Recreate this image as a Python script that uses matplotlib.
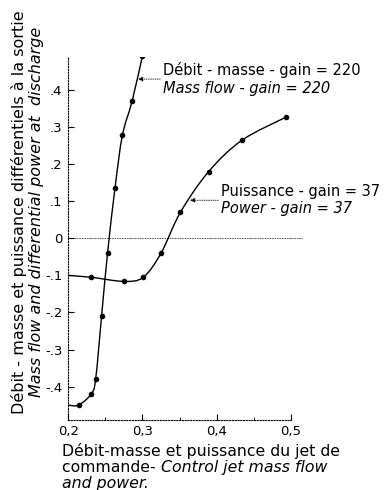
import matplotlib
matplotlib.use("Agg")
import matplotlib.pyplot as plt
from matplotlib.path import Path
from matplotlib.patches import PathPatch
from matplotlib.ticker import FixedLocator

# débit-masse (mass flow)
mass_x = [0.200, 0.214, 0.231, 0.237, 0.245, 0.253, 0.263, 0.273, 0.286, 0.300]
mass_y = [-0.450, -0.450, -0.420, -0.380, -0.210, -0.040, 0.135, 0.278, 0.370, 0.492]

# puissance (power)
pow_x = [0.200, 0.231, 0.275, 0.301, 0.325, 0.351, 0.389, 0.434, 0.493]
pow_y = [-0.100, -0.105, -0.116, -0.105, -0.040, 0.070, 0.180, 0.265, 0.327]

yticks = [-0.4, -0.3, -0.2, -0.1, 0, 0.1, 0.2, 0.3, 0.4]
ylabels = ["-.4", "-.3", "-.2", "-.1", "0", ".1", ".2", ".3", ".4"]
xticks = [0.2, 0.3, 0.4, 0.5]
xlabels = ["0,2", "0,3", "0,4", "0,5"]


def smooth_path(xs, ys):
    # courbe de Bezier passant par les points (Catmull-Rom)
    pts = list(zip(xs, ys))
    verts = [pts[0]]
    codes = [Path.MOVETO]
    n = len(pts)
    for i in range(n - 1):
        p0 = pts[i - 1] if i > 0 else pts[i]
        p1 = pts[i]
        p2 = pts[i + 1]
        p3 = pts[i + 2] if i + 2 < n else pts[i + 1]
        c1 = (p1[0] + (p2[0] - p0[0]) / 6, p1[1] + (p2[1] - p0[1]) / 6)
        c2 = (p2[0] - (p3[0] - p1[0]) / 6, p2[1] - (p3[1] - p1[1]) / 6)
        verts += [c1, c2, p2]
        codes += [Path.CURVE4] * 3
    return Path(verts, codes)


plt.rcParams['font.family'] = ['DejaVu Sans']
fig = plt.figure(figsize=(3.85, 4.9), dpi=100)
ax = fig.add_axes([0.177, 0.143, 0.579, 0.741])

ax.add_patch(PathPatch(smooth_path(mass_x, mass_y), fc="none", ec="black", lw=1.0))
ax.plot(mass_x[1:], mass_y[1:], "o", color="black", ms=3)
ax.add_patch(PathPatch(smooth_path(pow_x, pow_y), fc="none", ec="black", lw=1.0))
ax.plot(pow_x[1:], pow_y[1:], "o", color="black", ms=3)

ax.plot([0.2, 0.515], [0, 0], color="black", lw=0.6, ls=(0, (1, 1)), clip_on=False)

ax.set_xlim(0.2, 0.5)
ax.set_ylim(-0.49, 0.49)
ax.spines['top'].set_visible(False)
ax.spines['right'].set_visible(False)
for s in ['left', 'bottom']:
    ax.spines[s].set_linestyle((0, (1, 1.5)))
    ax.spines[s].set_linewidth(0.8)

ax.set_xticks(xticks)
ax.set_xticklabels(xlabels, fontsize=9.5)
ax.xaxis.set_minor_locator(FixedLocator([0.25, 0.35, 0.45]))
ax.set_yticks(yticks)
ax.set_yticklabels(ylabels, fontsize=9.5)
ax.tick_params(axis='both', which='major', direction='in', length=4, width=0.8, pad=4)
ax.tick_params(axis='x', which='minor', direction='in', length=2, width=0.6)

# annotations
ax.annotate("", xy=(0.294, 0.43), xytext=(0.324, 0.43),
            arrowprops=dict(arrowstyle="-|>", color="black", lw=0.6, ls=":",
                            mutation_scale=7, shrinkA=0, shrinkB=0))
ax.text(0.327, 0.455, "Débit - masse - gain = 220", fontsize=10.5, va="center", ha="left")
ax.text(0.327, 0.405, "Mass flow - gain = 220", fontsize=10.5, va="center", ha="left",
        style="italic")

ax.annotate("", xy=(0.364, 0.103), xytext=(0.402, 0.103),
            arrowprops=dict(arrowstyle="-|>", color="black", lw=0.6, ls=":",
                            mutation_scale=7, shrinkA=0, shrinkB=0))
ax.text(0.406, 0.126, "Puissance - gain = 37", fontsize=10.5, va="center", ha="left")
ax.text(0.406, 0.080, "Power - gain = 37", fontsize=10.5, va="center", ha="left",
        style="italic")

# titre axe y (deux lignes)
fig.text(0.050, 0.567, "Débit - masse et puissance différentiels à la sortie",
         rotation=90, fontsize=11.5, ha="center", va="center")
fig.text(0.094, 0.567, "Mass flow and differential power at  discharge",
         rotation=90, fontsize=11.5, ha="center", va="center", style="italic")

# titre axe x (trois lignes)
fs = 11.3
fig.text(0.161, 1 - 451 / 490, "Débit-masse et puissance du jet de",
         fontsize=fs, ha="left", va="center")
t = fig.text(0.161, 1 - 467 / 490, "commande- ", fontsize=fs, ha="left", va="center")
fig.canvas.draw()
bb = t.get_window_extent()
fig.text(bb.x1 / fig.bbox.width, 1 - 467 / 490, "Control jet mass flow",
         fontsize=fs, ha="left", va="center", style="italic")
fig.text(0.161, 1 - 483 / 490, "and power.", fontsize=fs, ha="left", va="center",
         style="italic")

fig.savefig("out.png", dpi=100)
